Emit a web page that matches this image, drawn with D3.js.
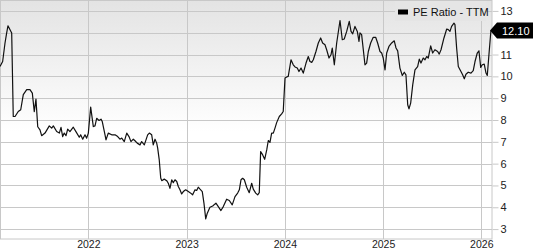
<!DOCTYPE html>
<html>
<head>
<meta charset="utf-8">
<script src="https://cdn.jsdelivr.net/npm/d3@7"></script>
<style>
  body { margin: 0; background: #fff; }
  svg { display: block; font-family: "Liberation Sans", Arial, sans-serif; }
</style>
</head>
<body>
<svg id="chart" width="533" height="250"></svg>
<script>
// decimal year of each reading
const dates = [
  2021.101, 2021.128, 2021.152, 2021.169, 2021.182, 2021.203, 2021.220, 2021.236, 2021.254, 2021.287,
  2021.312, 2021.338, 2021.373, 2021.406, 2021.430, 2021.450, 2021.467, 2021.485, 2021.508, 2021.525,
  2021.559, 2021.603, 2021.627, 2021.644, 2021.678, 2021.705, 2021.722, 2021.739, 2021.755, 2021.773,
  2021.790, 2021.813, 2021.847, 2021.874, 2021.908, 2021.922, 2021.943, 2021.966, 2021.983, 2022.000,
  2022.024, 2022.051, 2022.068, 2022.085, 2022.109, 2022.129, 2022.142, 2022.170, 2022.180, 2022.203,
  2022.238, 2022.272, 2022.299, 2022.322, 2022.340, 2022.366, 2022.391, 2022.414, 2022.434, 2022.458,
  2022.475, 2022.498, 2022.526, 2022.543, 2022.570, 2022.587, 2022.604, 2022.621, 2022.645, 2022.661,
  2022.679, 2022.696, 2022.706, 2022.722, 2022.737, 2022.747, 2022.773, 2022.798, 2022.814, 2022.831,
  2022.849, 2022.865, 2022.882, 2022.900, 2022.916, 2022.933, 2022.950, 2022.967, 2022.991, 2023.018,
  2023.035, 2023.062, 2023.086, 2023.103, 2023.119, 2023.137, 2023.160, 2023.177, 2023.195, 2023.211,
  2023.238, 2023.266, 2023.299, 2023.323, 2023.350, 2023.374, 2023.408, 2023.435, 2023.465, 2023.493,
  2023.520, 2023.537, 2023.554, 2023.571, 2023.588, 2023.612, 2023.638, 2023.663, 2023.679, 2023.704,
  2023.724, 2023.740, 2023.754, 2023.775, 2023.795, 2023.816, 2023.832, 2023.849, 2023.866, 2023.883,
  2023.900, 2023.917, 2023.944, 2023.968, 2023.984, 2024.002, 2024.019, 2024.035, 2024.063, 2024.086,
  2024.104, 2024.127, 2024.144, 2024.165, 2024.188, 2024.216, 2024.239, 2024.256, 2024.274, 2024.290,
  2024.317, 2024.341, 2024.365, 2024.385, 2024.409, 2024.426, 2024.450, 2024.470, 2024.483, 2024.504,
  2024.528, 2024.562, 2024.585, 2024.605, 2024.630, 2024.656, 2024.674, 2024.691, 2024.714, 2024.738,
  2024.755, 2024.765, 2024.782, 2024.816, 2024.833, 2024.850, 2024.874, 2024.900, 2024.925, 2024.945,
  2024.969, 2024.986, 2025.002, 2025.020, 2025.037, 2025.060, 2025.088, 2025.114, 2025.132, 2025.149,
  2025.172, 2025.196, 2025.216, 2025.233, 2025.251, 2025.264, 2025.281, 2025.302, 2025.325, 2025.352,
  2025.369, 2025.386, 2025.409, 2025.427, 2025.444, 2025.460, 2025.485, 2025.505, 2025.528, 2025.556,
  2025.572, 2025.590, 2025.620, 2025.648, 2025.664, 2025.681, 2025.698, 2025.722, 2025.732, 2025.749,
  2025.766, 2025.793, 2025.810, 2025.827, 2025.844, 2025.867, 2025.895, 2025.918, 2025.936, 2025.959,
  2025.976, 2025.994, 2026.010, 2026.030, 2026.048, 2026.061, 2026.078, 2026.098
];

const peRatio = [
  10.45, 10.68, 11.53, 11.99, 12.32, 12.14, 11.99, 8.16, 8.16, 8.39,
  8.47, 9.16, 9.39, 9.39, 9.23, 8.38, 8.96, 7.69, 7.55, 7.28,
  7.40, 7.73, 7.63, 7.73, 7.47, 7.40, 7.66, 7.24, 7.40, 7.28,
  7.58, 7.47, 7.67, 7.47, 7.21, 7.32, 7.12, 7.32, 7.17, 7.40,
  8.59, 7.70, 7.73, 8.08, 7.98, 8.04, 7.93, 7.32, 7.09, 7.40,
  7.32, 7.32, 7.24, 7.12, 7.17, 7.01, 7.40, 7.24, 7.01, 7.12,
  7.05, 6.94, 6.86, 7.01, 6.86, 7.09, 7.32, 7.40, 7.32, 6.86,
  7.12, 6.94, 6.71, 6.17, 5.34, 5.22, 5.29, 5.22, 5.10, 4.87,
  5.26, 5.13, 5.26, 5.18, 4.95, 4.80, 4.61, 4.72, 4.80, 4.72,
  4.67, 4.57, 4.80, 4.77, 4.92, 4.83, 4.72, 4.19, 3.47, 3.73,
  4.00, 4.06, 4.19, 4.03, 3.85, 4.03, 4.37, 4.31, 4.11, 4.49,
  4.65, 4.80, 5.26, 5.33, 5.26, 4.92, 4.67, 5.10, 4.83, 4.65,
  4.57, 4.67, 6.55, 6.40, 6.20, 6.63, 7.06, 6.97, 7.40, 7.40,
  7.63, 7.88, 8.16, 8.28, 8.39, 9.92, 9.97, 10.00, 10.76, 10.53,
  10.43, 10.38, 10.22, 10.38, 10.15, 10.61, 10.91, 10.68, 10.64, 10.76,
  11.14, 11.53, 11.76, 11.53, 11.45, 11.22, 10.84, 10.99, 11.30, 10.53,
  11.53, 12.56, 11.68, 11.71, 12.06, 12.52, 12.06, 11.95, 12.29, 12.06,
  11.60, 11.99, 11.91, 10.53, 10.61, 11.14, 11.53, 11.79, 11.79, 11.53,
  11.14, 11.07, 10.84, 10.30, 11.07, 11.37, 11.53, 11.63, 11.30, 11.17,
  10.38, 10.04, 10.19, 10.07, 8.70, 8.51, 8.77, 9.61, 10.30, 10.45,
  10.79, 10.61, 10.84, 10.76, 10.91, 10.84, 11.40, 11.07, 11.22, 11.14,
  11.02, 11.22, 11.76, 12.17, 12.14, 12.06, 12.29, 12.44, 12.37, 11.30,
  10.45, 10.22, 10.07, 9.89, 10.10, 10.19, 10.15, 10.26, 10.68, 11.07,
  11.17, 10.41, 10.53, 10.56, 10.15, 10.04, 11.00, 12.10
];

const yTicks = [3, 4, 5, 6, 7, 8, 9, 10, 11, 12, 13];
const xTicks = [2022, 2023, 2024, 2025, 2026];
const seriesName = "PE Ratio - TTM";
const lastLabel = "12.10";

const svg = d3.select("#chart");
const plotW = 492;
const plotH = 239;

const x = d3.scaleLinear().domain([2021.101, 2026.109]).range([0, plotW]);
const y = d3.scaleLinear().domain([2.5, 13.5]).range([240, 0]);

// background gradient
const grad = svg.append("defs").append("linearGradient")
  .attr("id", "bg").attr("x1", 0).attr("y1", 0).attr("x2", 0).attr("y2", 1);
grad.append("stop").attr("offset", "0%").attr("stop-color", "#e3e3e3");
grad.append("stop").attr("offset", "55%").attr("stop-color", "#ffffff");
grad.append("stop").attr("offset", "100%").attr("stop-color", "#ffffff");

svg.append("rect")
  .attr("x", 0).attr("y", 0)
  .attr("width", plotW).attr("height", plotH)
  .attr("fill", "url(#bg)");

// horizontal grid
svg.append("g")
  .selectAll("line")
  .data(yTicks)
  .join("line")
  .attr("x1", 0).attr("x2", plotW)
  .attr("y1", (d) => Math.round(y(d)) + 0.5)
  .attr("y2", (d) => Math.round(y(d)) + 0.5)
  .attr("stroke", "#c8c8c8");

// vertical grid
svg.append("g")
  .selectAll("line")
  .data(xTicks)
  .join("line")
  .attr("x1", (d) => Math.round(x(d)) + 0.5)
  .attr("x2", (d) => Math.round(x(d)) + 0.5)
  .attr("y1", 0).attr("y2", plotH)
  .attr("stroke", "#c8c8c8");

// frame
svg.append("rect")
  .attr("x", 0.5).attr("y", 0.5)
  .attr("width", plotW - 0.5).attr("height", plotH - 0.5)
  .attr("fill", "none")
  .attr("stroke", "#c8c8c8");

const lastValue = peRatio[peRatio.length - 1];
const lastY = y(lastValue);

// right axis
const yAxis = svg.append("g")
  .attr("transform", "translate(" + (plotW + 0.5) + ",0)")
  .call(d3.axisRight(y).tickValues(yTicks).tickSize(6).tickPadding(2));
yAxis.select(".domain").remove();
yAxis.selectAll(".tick line").attr("stroke", "#c8c8c8");
yAxis.selectAll(".tick text")
  .attr("fill", "#222")
  .attr("font-size", "11px")
  .attr("font-family", "Liberation Sans, Arial, sans-serif");
// the last-value flag hides the tick label under it
yAxis.selectAll(".tick")
  .filter((d) => Math.abs(y(d) - lastY) < 10)
  .select("text")
  .remove();

// bottom axis
const xAxis = svg.append("g")
  .attr("transform", "translate(0," + plotH + ")")
  .call(d3.axisBottom(x).tickValues(xTicks).tickFormat(d3.format("d")).tickSize(0));
xAxis.select(".domain").remove();
xAxis.selectAll(".tick text")
  .attr("y", 9)
  .attr("dy", null)
  .attr("fill", "#222")
  .attr("font-size", "10.5px")
  .attr("font-family", "Liberation Sans, Arial, sans-serif");

// the line
const series = dates.map((d, i) => ({ t: d, v: peRatio[i] }));
svg.append("path")
  .datum(series)
  .attr("fill", "none")
  .attr("stroke", "#111")
  .attr("stroke-width", 1.2)
  .attr("stroke-linejoin", "round")
  .attr("d", d3.line().x((d) => x(d.t)).y((d) => y(d.v)));

// legend
svg.append("rect")
  .attr("x", 395).attr("y", 1)
  .attr("width", 91).attr("height", 20)
  .attr("fill", "#e5e5e5");
svg.append("rect")
  .attr("x", 398).attr("y", 9.5)
  .attr("width", 10).attr("height", 5)
  .attr("fill", "#000");
svg.append("text")
  .attr("x", 413).attr("y", 16)
  .attr("font-size", "11px")
  .attr("fill", "#111")
  .text(seriesName);

// last value marker
svg.append("path")
  .attr("d", "M" + 490 + "," + lastY + "L" + 497 + "," + (lastY - 8) + "L533," + (lastY - 8) +
    "L533," + (lastY + 8) + "L" + 497 + "," + (lastY + 8) + "Z")
  .attr("fill", "#000");
svg.append("text")
  .attr("x", 502).attr("y", lastY + 4)
  .attr("font-size", "11px")
  .attr("fill", "#fff")
  .text(lastLabel);
</script>
</body>
</html>
